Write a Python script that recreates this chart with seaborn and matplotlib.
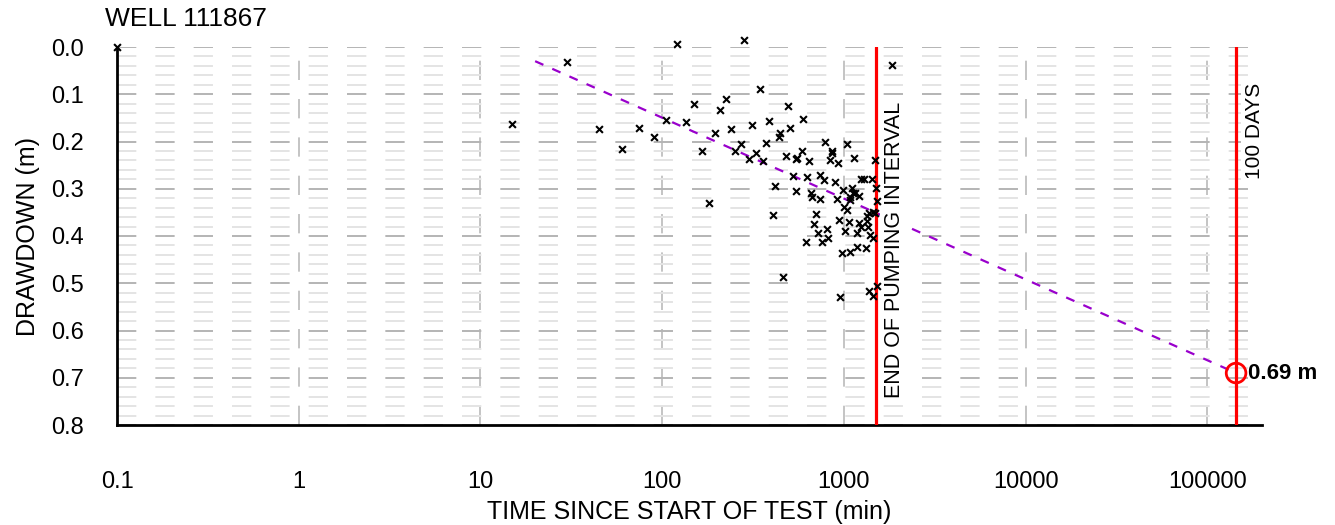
import numpy as np
import pandas as pd
import seaborn as sns
import matplotlib
matplotlib.use("Agg")
from matplotlib import pyplot as plt
from matplotlib.ticker import FixedLocator, LogLocator, NullFormatter, MultipleLocator

# observed drawdown readings (time in min, drawdown in m)
time_min = [0.1, 15, 30, 45, 60, 75, 90, 105, 120, 135, 150, 165, 180, 195, 208,
            224, 239, 253, 270, 282, 300, 313, 328, 345, 360, 375, 388, 405, 419,
            437, 448, 463, 480, 494, 508, 526, 542, 545, 553, 585, 597, 615, 628,
            646, 663, 672, 684, 702, 721, 738, 743, 762, 776, 792, 809, 818, 838,
            855, 863, 892, 919, 931, 942, 958, 971, 991, 1000, 1014, 1042, 1042,
            1069, 1080, 1080, 1087, 1115, 1125, 1135, 1158, 1175, 1188, 1207, 1213,
            1250, 1250, 1288, 1318, 1333, 1343, 1362, 1377, 1377, 1390, 1420, 1439,
            1439, 1449, 1482, 1482, 1500, 1514, 1525, 1837]
drawdown = [0.0, 0.163, 0.032, 0.174, 0.216, 0.172, 0.191, 0.154, -0.006, 0.159,
            0.120, 0.221, 0.331, 0.183, 0.133, 0.110, 0.173, 0.220, 0.205, -0.015,
            0.236, 0.165, 0.225, 0.088, 0.241, 0.203, 0.157, 0.356, 0.294, 0.190,
            0.181, 0.487, 0.230, 0.125, 0.172, 0.272, 0.305, 0.238, 0.234, 0.221,
            0.152, 0.412, 0.276, 0.241, 0.310, 0.317, 0.375, 0.353, 0.394, 0.322,
            0.271, 0.412, 0.282, 0.200, 0.386, 0.405, 0.239, 0.225, 0.220, 0.286,
            0.322, 0.246, 0.366, 0.530, 0.435, 0.303, 0.338, 0.389, 0.206, 0.344,
            0.370, 0.317, 0.324, 0.433, 0.298, 0.308, 0.234, 0.310, 0.394, 0.423,
            0.315, 0.372, 0.279, 0.382, 0.280, 0.426, 0.368, 0.358, 0.382, 0.351,
            0.516, 0.398, 0.280, 0.349, 0.528, 0.405, 0.239, 0.352, 0.298, 0.326,
            0.506, 0.038]

# fitted trend line and projection
trend_time = [20, 144000]
trend_dd = [0.03, 0.69]
end_pumping = 1500
days_100 = 144000
proj_dd = 0.69

x_ticks = [0.1, 1, 10, 100, 1000, 10000, 100000]
x_labels = ["0.1", "1", "10", "100", "1000", "10000", "100000"]
y_ticks = [0.0, 0.1, 0.2, 0.3, 0.4, 0.5, 0.6, 0.7, 0.8]

df = pd.DataFrame({"time": time_min, "dd": drawdown})
trend = pd.DataFrame({"time": trend_time, "dd": trend_dd})

sns.set_style("white")
plt.rcParams["font.family"] = ["Liberation Sans", "DejaVu Sans"]
plt.rcParams["lines.scale_dashes"] = False
plt.rcParams["text.color"] = "black"
plt.rcParams["axes.labelcolor"] = "black"

fig = plt.figure(figsize=(13.35, 5.25), dpi=100)
ax = fig.add_axes([117 / 1335, 1 - 425 / 525, (1262 - 117) / 1335, (425 - 47) / 525])

# grid
dash = (0, (13.9, 13.7))
ax.set_axisbelow(True)
ax.yaxis.grid(True, which="major", color="#b4b4b4", lw=1.4, linestyle=dash)
ax.yaxis.grid(True, which="minor", color="#e4e4e4", lw=1.4, linestyle=dash)
ax.xaxis.grid(True, which="major", color="#c4c4c4", lw=1.4, linestyle=dash)
ax.xaxis.grid(False, which="minor")

sns.lineplot(data=trend, x="time", y="dd", ax=ax, color="#9900cc", lw=1.6,
             linestyle=(0, (6.5, 7)), zorder=2)

ax.axvline(end_pumping, color="red", lw=2.3, zorder=4)
ax.axvline(days_100, color="red", lw=2.3, zorder=4)

sns.scatterplot(data=df, x="time", y="dd", ax=ax, marker="x", color="black",
                s=24, linewidth=1.5, clip_on=False, zorder=5)

sns.scatterplot(x=[days_100], y=[proj_dd], ax=ax, marker="o", s=200,
                facecolor="none", edgecolor="red", linewidth=2, zorder=6, clip_on=False)

ax.annotate("END OF PUMPING INTERVAL", xy=(end_pumping, 0.743), xytext=(8, 0),
            textcoords="offset pixels", rotation=90, ha="left", va="bottom",
            fontsize=15.5, color="black", zorder=3,
            bbox=dict(facecolor="white", edgecolor="none", pad=3))
ax.annotate("100 DAYS", xy=(days_100, 0.28), xytext=(9, 0),
            textcoords="offset pixels", rotation=90, ha="left", va="bottom",
            fontsize=15, color="black", zorder=3,
            bbox=dict(facecolor="white", edgecolor="none", pad=3))
ax.annotate("0.69 m", xy=(days_100, proj_dd), xytext=(12, 0),
            textcoords="offset pixels", ha="left", va="center",
            fontsize=16, fontweight="bold", color="black", zorder=7)

ax.set_xscale("log")
ax.set_xlim(0.1, 2e5)
ax.set_ylim(0.8, 0.0)

ax.xaxis.set_major_locator(FixedLocator(x_ticks))
ax.set_xticklabels(x_labels)
ax.xaxis.set_minor_locator(LogLocator(base=10, subs=np.arange(2, 10)))
ax.xaxis.set_minor_formatter(NullFormatter())
ax.set_yticks(y_ticks)
ax.set_yticklabels([f"{v:.1f}" for v in y_ticks])
ax.yaxis.set_minor_locator(MultipleLocator(0.02))

ax.tick_params(axis="x", which="major", direction="out", length=14, width=2.2,
               pad=19, labelsize=17, colors="black")
ax.tick_params(axis="x", which="minor", direction="out", length=5, width=1.8,
               colors="black")
ax.tick_params(axis="y", which="major", direction="out", length=14, width=2.2,
               pad=10, labelsize=17, colors="black")
ax.tick_params(axis="y", which="minor", direction="out", length=11, width=1,
               colors="black")

for side in ["top", "right"]:
    ax.spines[side].set_visible(False)
for side in ["left", "bottom"]:
    ax.spines[side].set_linewidth(2)
    ax.spines[side].set_color("black")

ax.set_xlabel("TIME SINCE START OF TEST (min)", fontsize=18, labelpad=5)
ax.set_ylabel("DRAWDOWN (m)", fontsize=18, labelpad=8)

fig.text(105 / 1335, 1 - 18.5 / 525, "WELL 111867", fontsize=19, ha="left", va="center")

fig.savefig("out.png", dpi=100)
